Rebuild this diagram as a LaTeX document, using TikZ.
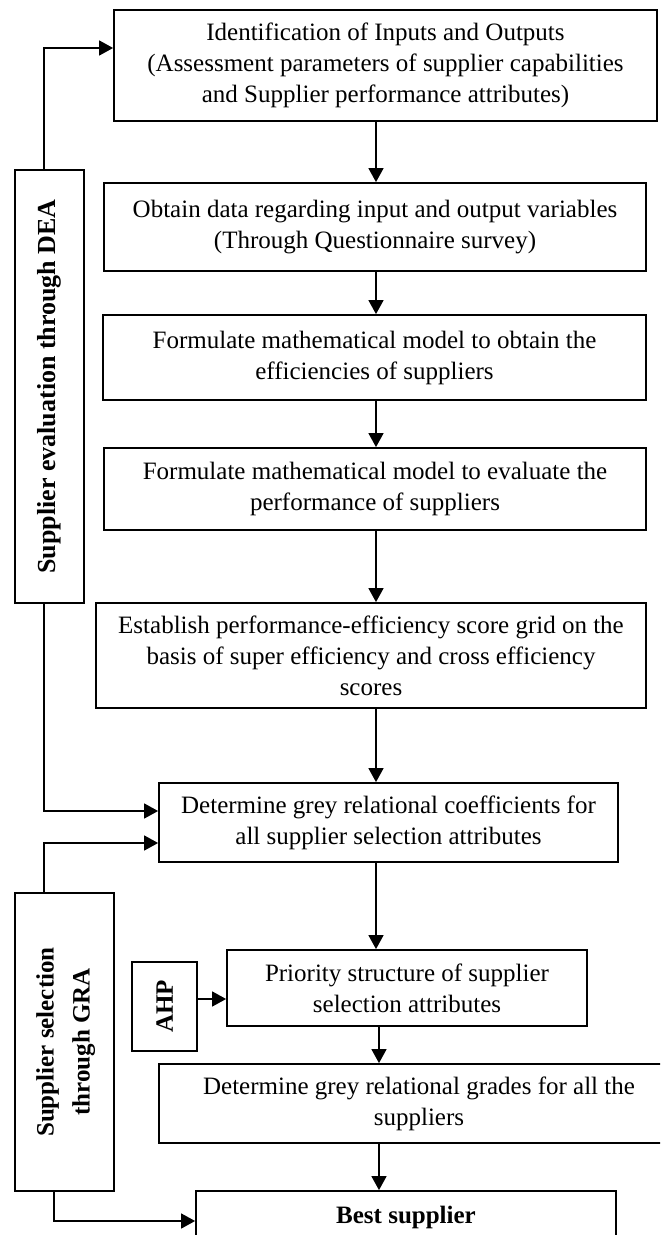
\documentclass[tikz,border=0pt]{standalone}
\usepackage{fontspec}
\setmainfont{Liberation Serif}
\usetikzlibrary{arrows.meta}
\begin{document}
\begin{tikzpicture}[x=0.5pt,y=-0.5pt,
  box/.style={draw, line width=0.9pt, inner sep=0pt, align=center, font=\fontsize{12.5}{15.5}\selectfont},
  side/.style={draw, line width=0.9pt, inner sep=0pt, font=\fontsize{12.5}{18}\selectfont\bfseries},
  arr/.style={line width=0.75pt, -{Triangle[length=7pt,width=7.5pt]}}]
\useasboundingbox (0,0) rectangle (660,1235);
\clip (0,0) rectangle (660,1235);

\node[box, minimum width=271.5pt, minimum height=55.5pt] (b1) at (385.5,65.5)
  {Identification of Inputs and Outputs\\(Assessment parameters of supplier capabilities\\and Supplier performance attributes)};
\node[box, minimum width=271pt, minimum height=44pt] (b2) at (375,227)
  {Obtain data regarding input and output variables\\(Through Questionnaire survey)};
\node[box, minimum width=271.5pt, minimum height=42.5pt] (b3) at (374.5,357.5)
  {Formulate mathematical model to obtain the\\efficiencies of suppliers};
\node[box, minimum width=271pt, minimum height=41pt] (b4) at (375,489)
  {Formulate mathematical model to evaluate the\\performance of suppliers};
\node[box, minimum width=275pt, minimum height=52.5pt] (b5) at (371,655.5)
  {Establish performance-efficiency score grid on the\\basis of super efficiency and cross efficiency\\scores};
\node[box, minimum width=229.5pt, minimum height=39.5pt] (b6) at (388.5,822.5)
  {Determine grey relational coefficients for\\all supplier selection attributes};
\node[box, minimum width=180pt, minimum height=38pt] (b7) at (407,988)
  {Priority structure of supplier\\selection attributes};
\node[box, minimum width=260pt, minimum height=39.5pt] (b8) at (419,1103.5)
  {Determine grey relational grades for all the\\suppliers};
\node[box, minimum width=210pt, minimum height=26pt, font=\fontsize{12.5}{15.5}\selectfont\bfseries] (b9) at (406,1217)
  {Best supplier};

\node[side, font=\fontsize{13}{18}\selectfont\bfseries, minimum width=34.5pt, minimum height=216.5pt] (dea) at (49.5,386.5)
  {\rotatebox{90}{Supplier evaluation through DEA}};
\node[side, minimum width=49.5pt, minimum height=149pt] (gra) at (64.5,1042)
  {\rotatebox{90}{\begin{tabular}{@{}c@{}}Supplier selection\\through GRA\end{tabular}}};
\node[side, minimum width=32.5pt, minimum height=44.5pt] (ahp) at (164.5,1006.5)
  {\rotatebox{90}{AHP}};

\coordinate (ax) at (376,0);
\coordinate (bx) at (379,0);

\draw[arr] (b1.south -| ax) -- (b2.north -| ax);
\draw[arr] (b2.south -| ax) -- (b3.north -| ax);
\draw[arr] (b3.south -| ax) -- (b4.north -| ax);
\draw[arr] (b4.south -| ax) -- (b5.north -| ax);
\draw[arr] (b5.south -| ax) -- (b6.north -| ax);
\draw[arr] (b6.south -| ax) -- (b7.north -| ax);
\draw[arr] (b7.south -| bx) -- (b8.north -| bx);
\draw[arr] (b8.south -| bx) -- (b9.north -| bx);

\draw[arr] ([xshift=-2.75pt]dea.north) |- ([yshift=8.75pt]b1.west);
\draw[arr] ([xshift=-2.75pt]dea.south) |- ([yshift=5.75pt]b6.west);
\draw[arr] ([xshift=-10.25pt]gra.north) |- ([yshift=-10.25pt]b6.west);
\draw[arr] ([xshift=-5.25pt]gra.south) |- ([yshift=-2pt]b9.west);

\coordinate (a1) at ([yshift=3.75pt]ahp.east);
\draw[arr] (a1) -- (a1 -| b7.west);
\end{tikzpicture}
\end{document}
